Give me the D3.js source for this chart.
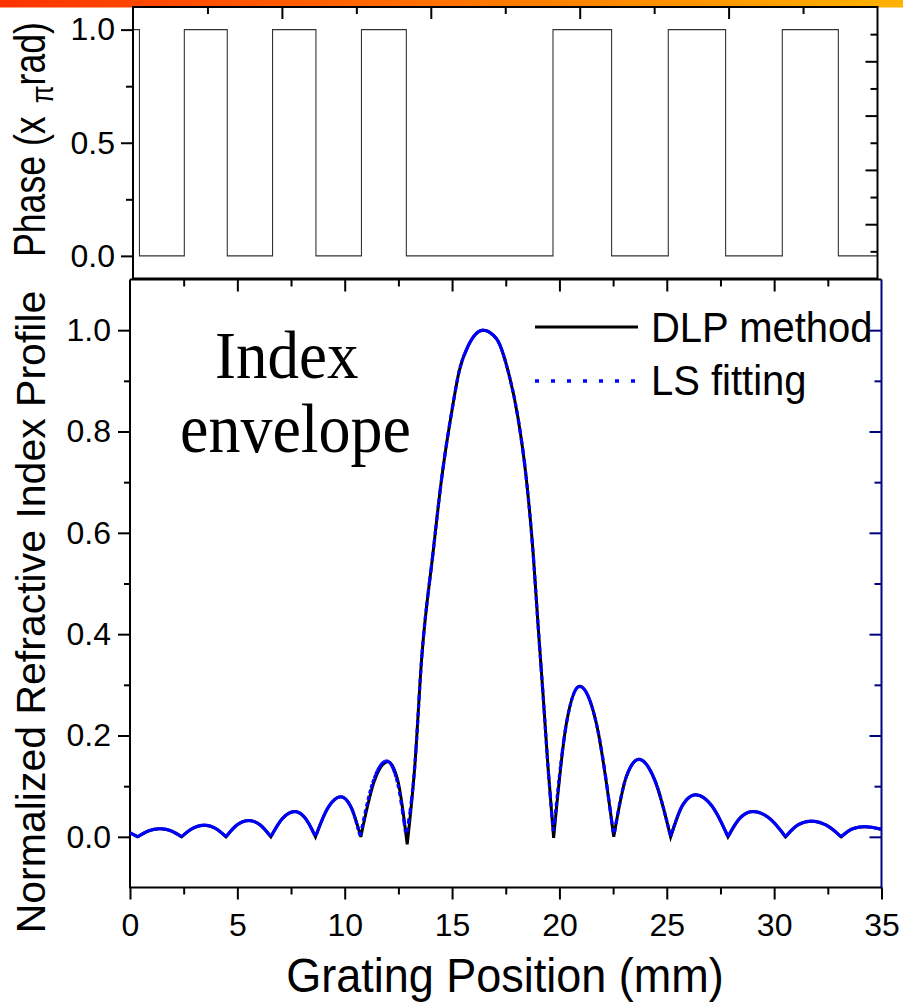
<!DOCTYPE html>
<html>
<head>
<meta charset="utf-8">
<script src="https://cdn.jsdelivr.net/npm/d3@7"></script>
<style>
  body { margin: 0; background: #fff; }
  svg { display: block; }
</style>
</head>
<body>
<svg id="chart" width="903" height="1003"></svg>
<script>
// ---- Phase profile (units of pi rad) along the grating ----
const phasePosition = [0, 0.44, 2.53, 4.53, 6.64, 8.66, 10.78, 12.87, 19.70, 22.43, 25.07, 27.74, 30.38, 32.99, 35];
const phaseValue    = [1, 0,    1,    0,    1,    0,    1,     0,     1,     0,     1,     0,     1,     0,     0];

// ---- Normalized refractive index profile: DLP method ----
const dlpPosition = [0, 0.36, 0.88, 1.40, 1.90, 2.40, 2.93, 3.46, 3.97, 4.47, 5.00, 5.54, 6.05, 6.56,
  7.12, 7.68, 8.16, 8.64, 9.23, 9.82, 10.29, 10.75, 11.38, 12.02, 12.47, 12.91,
  13.26, 13.58, 14.12, 14.51, 15.02, 15.33, 15.75, 16.44, 17.07, 17.61, 18.07, 18.46, 18.77, 19.00, 19.24, 19.47, 19.73,
  20.33, 20.94, 21.73, 22.53, 23.11, 23.70, 24.44, 25.18, 25.76, 26.34, 27.10, 27.85,
  28.43, 29.01, 29.77, 30.53, 31.13, 31.73, 32.43, 33.12, 33.66, 34.21, 35.00];
const dlpIndex = [0.008, 0.000, 0.012, 0.016, 0.012, 0.000, 0.017, 0.023, 0.017, 0.000, 0.024, 0.032, 0.024, 0.000,
  0.037, 0.050, 0.037, 0.000, 0.058, 0.079, 0.059, 0.000, 0.110, 0.148, 0.112, -0.015,
  0.137, 0.350, 0.563, 0.706, 0.848, 0.919, 0.969, 1.000, 0.983, 0.919, 0.827, 0.706, 0.563, 0.421, 0.279, 0.137, -0.002,
  0.225, 0.297, 0.222, 0.000, 0.118, 0.153, 0.112, 0.000, 0.064, 0.083, 0.061, 0.000,
  0.038, 0.050, 0.037, 0.000, 0.024, 0.031, 0.023, 0.000, 0.016, 0.020, 0.015];

// ---- Normalized refractive index profile: LS fitting ----
const lsPosition = [0, 0.36, 0.88, 1.40, 1.90, 2.40, 2.93, 3.46, 3.97, 4.47, 5.00, 5.54, 6.05, 6.56,
  7.12, 7.68, 8.16, 8.64, 9.23, 9.82, 10.29, 10.72, 11.33, 11.96, 12.43, 12.86,
  13.26, 13.58, 14.12, 14.51, 15.02, 15.33, 15.75, 16.44, 17.07, 17.61, 18.07, 18.46, 18.77, 19.00, 19.24, 19.47, 19.72,
  20.33, 20.94, 21.73, 22.53, 23.11, 23.70, 24.44, 25.18, 25.76, 26.34, 27.10, 27.85,
  28.43, 29.01, 29.77, 30.53, 31.13, 31.73, 32.43, 33.12, 33.66, 34.21, 35.00];
const lsIndex = [0.008, 0.000, 0.012, 0.016, 0.012, 0.000, 0.017, 0.023, 0.017, 0.000, 0.024, 0.032, 0.024, 0.000,
  0.037, 0.050, 0.037, 0.000, 0.058, 0.079, 0.059, 0.000, 0.110, 0.150, 0.112, 0.000,
  0.137, 0.350, 0.563, 0.706, 0.848, 0.919, 0.969, 1.000, 0.983, 0.919, 0.827, 0.706, 0.563, 0.421, 0.279, 0.137, 0.006,
  0.225, 0.297, 0.222, 0.000, 0.118, 0.153, 0.112, 0.000, 0.064, 0.083, 0.061, 0.000,
  0.038, 0.050, 0.037, 0.000, 0.024, 0.031, 0.023, 0.000, 0.016, 0.020, 0.015];

// ---- Tick values and labels ----
const positionMajorTicks = [0, 5, 10, 15, 20, 25, 30, 35];
const positionMinorTicks = [2.5, 7.5, 12.5, 17.5, 22.5, 27.5, 32.5];
const indexMajorTicks = [0, 0.2, 0.4, 0.6, 0.8, 1.0];
const indexMinorTicks = [0.1, 0.3, 0.5, 0.7, 0.9];
const phaseMajorTicks = [0, 0.5, 1.0];
const phaseMinorTicks = [0.25, 0.75];
const frameDivisions = [1, 2, 3, 4, 5, 6, 7, 8, 9];

const seriesNames = ["DLP method", "LS fitting"];

// ---- Layout ----
const SANS = "'Liberation Sans', Arial, Helvetica, sans-serif";
const SERIF = "'Liberation Serif', 'Times New Roman', serif";
const NAVY = "#000080";
const BLUE = "#0000ff";
const TICK_FONT = 32;

const svg = d3.select("#chart");

// header band
const grad = svg.append("defs").append("linearGradient")
  .attr("id", "band").attr("x1", "0%").attr("x2", "100%");
grad.append("stop").attr("offset", "0%").attr("stop-color", "#ff3300");
grad.append("stop").attr("offset", "100%").attr("stop-color", "#ffb200");
svg.append("rect").attr("x", 0).attr("y", 0).attr("width", 903).attr("height", 7.5)
  .attr("fill", "url(#band)");

// bottom panel scales
const botPanel = { left: 130, right: 881.5, top: 279.5, bottom: 887.5 };
const x = d3.scaleLinear().domain([0, 35]).range([botPanel.left, botPanel.right]);
const y = d3.scaleLinear().domain([-0.1, 1.1]).range([botPanel.bottom, botPanel.top]);

// top panel scales
const topPanel = { left: 133, right: 877.5, top: 7, bottom: 278.5 };
const yPhase = d3.scaleLinear().domain([-0.1, 1.1]).range([topPanel.bottom, topPanel.top]);
const xFrame = d3.scaleLinear().domain([0, 10]).range([topPanel.left, topPanel.right]);
const yFrame = d3.scaleLinear().domain([0, 10]).range([topPanel.bottom, topPanel.top]);

function styleAxis(g) {
  g.select(".domain").remove();
  g.selectAll("line").attr("stroke", "#000").attr("stroke-width", 2);
  g.selectAll("text").attr("font-family", SANS).attr("font-size", TICK_FONT).attr("fill", "#000");
}

// ================= TOP PANEL =================
svg.append("clipPath").attr("id", "topClip").append("rect")
  .attr("x", topPanel.left).attr("y", topPanel.top)
  .attr("width", topPanel.right - topPanel.left).attr("height", topPanel.bottom - topPanel.top);

const phaseLine = d3.line()
  .x((d, i) => x(phasePosition[i]))
  .y((d, i) => yPhase(phaseValue[i]))
  .curve(d3.curveStepAfter);
svg.append("path")
  .attr("d", phaseLine(phaseValue))
  .attr("clip-path", "url(#topClip)")
  .attr("fill", "none").attr("stroke", "#333").attr("stroke-width", 1.1);

// left axis (outward ticks)
svg.append("g").attr("transform", `translate(${topPanel.left},0)`)
  .call(d3.axisLeft(yPhase).tickValues(phaseMajorTicks).tickFormat(d3.format(".1f")).tickSize(12).tickPadding(6))
  .call(styleAxis);
svg.append("g").attr("transform", `translate(${topPanel.left},0)`)
  .call(d3.axisLeft(yPhase).tickValues(phaseMinorTicks).tickFormat("").tickSize(7))
  .call(styleAxis);

// top and right axes (inward ticks, frame divisions)
svg.append("g").attr("transform", `translate(0,${topPanel.top})`)
  .call(d3.axisTop(xFrame).tickValues(frameDivisions).tickFormat("").tickSizeInner(0).tickSizeOuter(0))
  .call(g => { styleAxis(g); g.selectAll(".tick line").attr("y2", d => d % 2 === 0 ? 12 : 7); });
svg.append("g").attr("transform", `translate(${topPanel.right},0)`)
  .call(d3.axisRight(yFrame).tickValues(frameDivisions).tickFormat("").tickSizeInner(0).tickSizeOuter(0))
  .call(g => { styleAxis(g); g.selectAll(".tick line").attr("x2", d => d % 2 === 0 ? -12 : -7); });

svg.append("rect")
  .attr("x", topPanel.left).attr("y", topPanel.top)
  .attr("width", topPanel.right - topPanel.left).attr("height", topPanel.bottom - topPanel.top)
  .attr("fill", "none").attr("stroke", "#000").attr("stroke-width", 2);

// phase title with subscript pi
const phaseTitle = svg.append("text")
  .attr("transform", `translate(45,257) rotate(-90) scale(0.81,1)`)
  .attr("font-family", SANS).attr("font-size", 44).attr("fill", "#000");
phaseTitle.append("tspan").text("Phase (x ");
phaseTitle.append("tspan").attr("font-size", 32).attr("dx", 4).attr("dy", 8).text("\u03c0");
phaseTitle.append("tspan").attr("dy", -8).text("rad)");

// ================= BOTTOM PANEL =================
// bottom axis
svg.append("g").attr("transform", `translate(0,${botPanel.bottom})`)
  .call(d3.axisBottom(x).tickValues(positionMajorTicks).tickFormat(d3.format("d")).tickSize(12).tickPadding(14))
  .call(styleAxis);
svg.append("g").attr("transform", `translate(0,${botPanel.bottom})`)
  .call(d3.axisBottom(x).tickValues(positionMinorTicks).tickFormat("").tickSize(7))
  .call(styleAxis);
// top axis, inward
svg.append("g").attr("transform", `translate(0,${botPanel.top})`)
  .call(d3.axisTop(x).tickValues(positionMajorTicks.slice(1, -1)).tickFormat("").tickSize(-12))
  .call(styleAxis);
svg.append("g").attr("transform", `translate(0,${botPanel.top})`)
  .call(d3.axisTop(x).tickValues(positionMinorTicks).tickFormat("").tickSize(-7))
  .call(styleAxis);
// left axis
svg.append("g").attr("transform", `translate(${botPanel.left},0)`)
  .call(d3.axisLeft(y).tickValues(indexMajorTicks).tickFormat(d3.format(".1f")).tickSize(12).tickPadding(7))
  .call(styleAxis);
svg.append("g").attr("transform", `translate(${botPanel.left},0)`)
  .call(d3.axisLeft(y).tickValues(indexMinorTicks).tickFormat("").tickSize(6))
  .call(styleAxis);
// right axis, inward, navy
svg.append("g").attr("transform", `translate(${botPanel.right},0)`)
  .call(d3.axisRight(y).tickValues(indexMajorTicks).tickFormat("").tickSize(-12))
  .call(g => { styleAxis(g); g.selectAll("line").attr("stroke", NAVY); });
svg.append("g").attr("transform", `translate(${botPanel.right},0)`)
  .call(d3.axisRight(y).tickValues(indexMinorTicks).tickFormat("").tickSize(-7))
  .call(g => { styleAxis(g); g.selectAll("line").attr("stroke", NAVY); });

// frame lines
const frame = svg.append("g").attr("stroke-width", 2).attr("fill", "none");
frame.append("line").attr("x1", botPanel.left).attr("x2", botPanel.right)
  .attr("y1", botPanel.top).attr("y2", botPanel.top).attr("stroke", "#000");
frame.append("line").attr("x1", botPanel.left).attr("x2", botPanel.right)
  .attr("y1", botPanel.bottom).attr("y2", botPanel.bottom).attr("stroke", "#000");
frame.append("line").attr("x1", botPanel.left).attr("x2", botPanel.left)
  .attr("y1", botPanel.top).attr("y2", botPanel.bottom + 1).attr("stroke", "#000");
frame.append("line").attr("x1", botPanel.right).attr("x2", botPanel.right)
  .attr("y1", botPanel.top).attr("y2", botPanel.bottom + 1).attr("stroke", NAVY);

// Smooth profile: each lobe between zeros is drawn as its own monotone
// curve, and the lobes are chained into one continuous path so the zeros stay sharp.
function lobePath(xs, ys) {
  const pts = xs.map((v, i) => [x(v), y(ys[i])]);
  const cuts = [0];
  for (let i = 1; i < ys.length - 1; i++) {
    if (ys[i] <= ys[i - 1] && ys[i] <= ys[i + 1]) cuts.push(i);
  }
  cuts.push(ys.length - 1);
  const gen = d3.line().curve(d3.curveMonotoneX);
  let d = "";
  for (let k = 0; k < cuts.length - 1; k++) {
    let s = gen(pts.slice(cuts[k], cuts[k + 1] + 1));
    if (k > 0) s = s.replace(/^M[-\d.,e]+/, "");
    d += s;
  }
  return d;
}

// DLP method (solid black)
svg.append("path")
  .attr("d", lobePath(dlpPosition, dlpIndex))
  .attr("fill", "none").attr("stroke", "#000").attr("stroke-width", 3);

// LS fitting (blue dotted): the curve is traced in short steps, each one
// starting its own dash pattern.
const lsD = lobePath(lsPosition, lsIndex);
const probe = svg.append("path").attr("d", lsD).attr("fill", "none").attr("visibility", "hidden");
const probeNode = probe.node();
const total = probeNode.getTotalLength();
const step = 1.5;
const lsPts = [];
let nextX = -Infinity;
for (let s = 0; s <= total; s += 0.25) {
  const p = probeNode.getPointAtLength(s);
  if (p.x >= nextX) { lsPts.push([p.x, p.y]); nextX = p.x + step; }
}
const endP = probeNode.getPointAtLength(total);
lsPts.push([endP.x, endP.y]);
probe.remove();
const segs = d3.path();
for (let i = 1; i < lsPts.length; i++) {
  segs.moveTo(lsPts[i - 1][0], lsPts[i - 1][1]);
  segs.lineTo(lsPts[i][0], lsPts[i][1]);
}
svg.append("path")
  .attr("d", segs.toString())
  .attr("fill", "none").attr("stroke", BLUE).attr("stroke-width", 3.2)
  .attr("stroke-dasharray", "4,4");

// legend
const legend = svg.append("g");
legend.append("line").attr("x1", 535).attr("x2", 638).attr("y1", 327).attr("y2", 327)
  .attr("stroke", "#000").attr("stroke-width", 3);
legend.append("line").attr("x1", 535).attr("x2", 638).attr("y1", 381).attr("y2", 381)
  .attr("stroke", BLUE).attr("stroke-width", 3.5).attr("stroke-dasharray", "4,12");
legend.selectAll("text").data(seriesNames).join("text")
  .attr("transform", (d, i) => `translate(651,${i === 0 ? 341.5 : 395}) scale(1,1.07)`)
  .attr("font-family", SANS).attr("font-size", 40).attr("fill", "#000")
  .text(d => d);

// annotation
svg.append("text").attr("transform", "translate(215,378) scale(1,1.08)")
  .attr("font-family", SERIF).attr("font-size", 63).attr("fill", "#000").text("Index");
svg.append("text").attr("transform", "translate(180,452) scale(1,1.08)")
  .attr("font-family", SERIF).attr("font-size", 64).attr("fill", "#000").text("envelope");

// axis titles
svg.append("text")
  .attr("transform", "translate(505,992) scale(1,1.07)")
  .attr("text-anchor", "middle")
  .attr("font-family", SANS).attr("font-size", 45).attr("fill", "#000")
  .text("Grating Position (mm)");
svg.append("text")
  .attr("transform", "translate(44.5,612) rotate(-90)")
  .attr("text-anchor", "middle")
  .attr("font-family", SANS).attr("font-size", 41).attr("fill", "#000")
  .text("Normalized Refractive Index Profile");
</script>
</body>
</html>
